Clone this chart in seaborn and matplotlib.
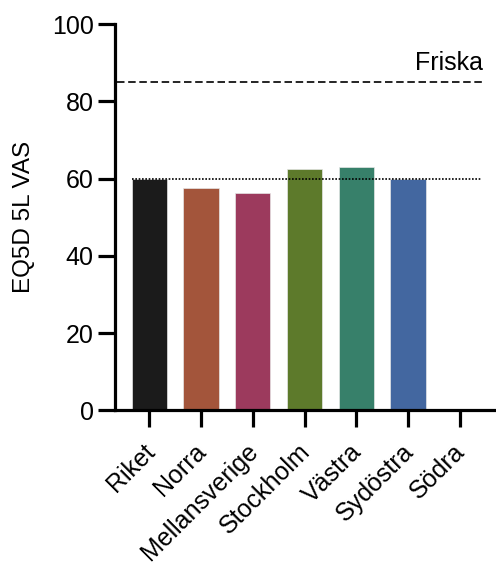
import numpy as np
import pandas as pd
import matplotlib
matplotlib.use("Agg")
import matplotlib.pyplot as plt
import matplotlib.transforms as mtransforms
import seaborn as sns

# EQ-5D-5L VAS per region
regions = ["Riket", "Norra", "Mellansverige", "Stockholm", "Västra", "Sydöstra", "Södra"]
vas_means = [60.0, 57.5, 56.4, 62.6, 63.0, 60.0, np.nan]
bar_colors = ["#1b1b1b", "#a3553b", "#9c3a5d", "#5d7a2b", "#37806a", "#4367a0", "#888888"]
healthy_ref = 85.0
healthy_label = "Friska"
national_ref = 60.0
y_ticks = [0, 20, 40, 60, 80, 100]
y_label = "EQ5D 5L VAS"

sns.set_theme(style="white")
plt.rcParams["font.family"] = ["Liberation Sans", "DejaVu Sans"]
plt.rcParams["text.color"] = "black"
plt.rcParams["axes.labelcolor"] = "black"

df = pd.DataFrame({"region": regions, "vas": vas_means})

fig = plt.figure(figsize=(4.96, 5.65), dpi=100)
ax = fig.add_axes([0.232, 0.2735, 0.768, 0.684])

sns.barplot(data=df, x="region", y="vas", hue="region", palette=bar_colors,
            saturation=1, legend=False, width=0.68, ax=ax,
            edgecolor="#e6e6e6", linewidth=0.5, zorder=2)

# reference lines
ax.hlines(healthy_ref, -0.62, 6.45, colors="black", linestyles=(0, (4.5, 2.2)),
          linewidth=1.2, zorder=3)
ax.text(6.45, healthy_ref + 1.7, healthy_label, ha="right", va="bottom",
        fontsize=18, color="black")
ax.hlines(national_ref, -0.34, 6.43, colors="black", linestyles=(0, (1, 1)),
          linewidth=1.2, zorder=3)

ax.set_xlim(-0.66, 6.70)
ax.set_ylim(0, 100)
ax.set_yticks(y_ticks)
ax.set_yticklabels([str(t) for t in y_ticks], fontsize=18)
ax.set_ylabel(y_label, fontsize=17.5, labelpad=12, color="black")
ax.set_xlabel("")

sns.despine(ax=ax, top=True, right=True)
for side in ("left", "bottom"):
    ax.spines[side].set_linewidth(2.3)
    ax.spines[side].set_color("black")
ax.tick_params(axis="both", which="major", direction="out", length=12.5, width=2.3,
               color="black", labelcolor="black", pad=3, left=True, bottom=True)
ax.tick_params(axis="x", pad=7)

# slanted category labels, nudged slightly left/down
nudge = mtransforms.ScaledTranslation(-7 / 100, -2 / 100, fig.dpi_scale_trans)
for lbl in ax.get_xticklabels():
    lbl.set_rotation(45)
    lbl.set_ha("right")
    lbl.set_va("top")
    lbl.set_rotation_mode("anchor")
    lbl.set_fontsize(18)
    lbl.set_transform(lbl.get_transform() + nudge)

fig.savefig("out.png", dpi=100)
